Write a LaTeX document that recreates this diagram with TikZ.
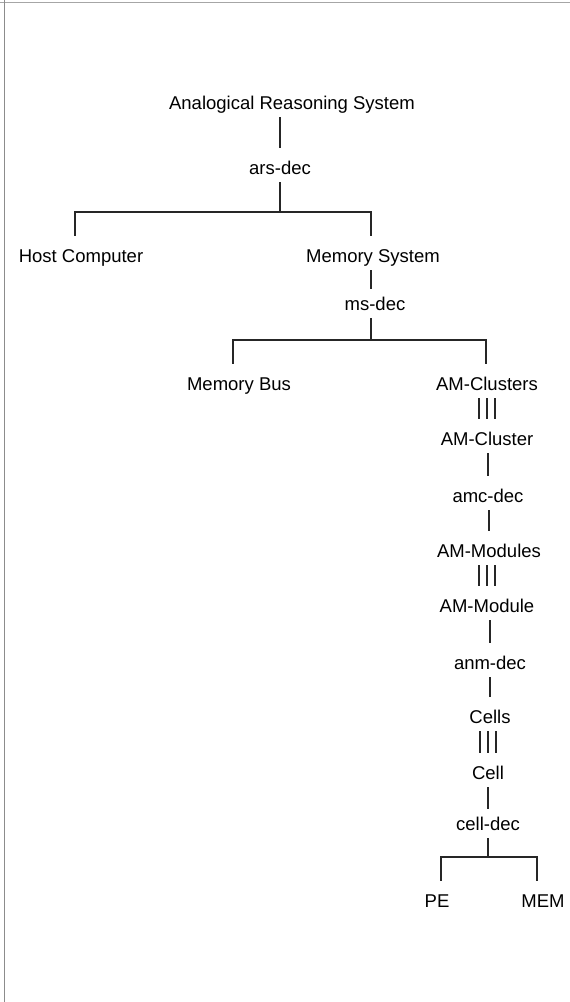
\documentclass[tikz,border=0pt]{standalone}
\usepackage{fontspec}
\setmainfont{Liberation Sans}
\begin{document}
\begin{tikzpicture}[x=1pt, y=-1pt]
\tikzset{
  lbl/.style={anchor=base, font=\fontsize{18.5}{22}\selectfont,
    text height=21pt, text depth=3pt, inner ysep=5pt, inner xsep=1pt},
  wire/.style={line width=1.1pt, black!85},
  frame/.style={line width=0.8pt, black!45},
}
\useasboundingbox (0,0) rectangle (570,1002);

% page frame lines along the top and left edge
\draw[frame, black!35] (0,2) -- (570,2);
\draw[frame] (4,0) -- (4,1002);

% labels (positioned by their baselines)
\node[lbl] (ars)     at (292,109) {Analogical Reasoning System};
\node[lbl] (arsdec)  at (280,174) {ars-dec};
\node[lbl] (host)    at (81,262)  {Host Computer};
\node[lbl] (mem)     at (373,262) {Memory System};
\node[lbl] (msdec)   at (375,310) {ms-dec};
\node[lbl] (bus)     at (239,390) {Memory Bus};
\node[lbl] (amcs)    at (487,390) {AM-Clusters};
\node[lbl] (amc)     at (487,445) {AM-Cluster};
\node[lbl] (amcdec)  at (488,502) {amc-dec};
\node[lbl] (amms)    at (489,557) {AM-Modules};
\node[lbl] (amm)     at (487,612) {AM-Module};
\node[lbl] (anmdec)  at (490,669) {anm-dec};
\node[lbl] (cells)   at (490,723) {Cells};
\node[lbl] (cell)    at (488,779) {Cell};
\node[lbl] (celldec) at (488,830) {cell-dec};
\node[lbl] (pe)      at (437,907) {PE};
\node[lbl] (memc)    at (543,907) {MEM};

% branch points
\coordinate (b1l) at (75,212);
\coordinate (b1r) at (371,212);
\coordinate (b2l) at (233,340);
\coordinate (b2r) at (486,340);
\coordinate (b3l) at (441,857);
\coordinate (b3r) at (537,857);

% top level
\draw[wire] (arsdec.north |- ars.south) -- (arsdec.north);
\draw[wire] (arsdec.south) -- (arsdec.south |- b1l);
\draw[wire] (b1l |- host.north) -- (b1l) -- (b1r) -- (b1r |- mem.north);

% memory system
\draw[wire] (b1r |- mem.south) -- ([yshift=-5pt]b1r |- msdec.north);
\draw[wire] (b1r |- msdec.south) -- (b1r |- b2l);
\draw[wire] (b2l |- bus.north) -- (b2l) -- (b2r) -- (b2r |- amcs.north);

% single links down the column
\draw[wire] (amcdec.north |- amc.south) -- (amcdec.north);
\draw[wire] (amms.north |- amcdec.south) -- (amms.north);
\draw[wire] (anmdec.north |- amm.south) -- (anmdec.north);
\draw[wire] (cells.north |- anmdec.south) -- (cells.north);
\draw[wire] (celldec.north |- cell.south) -- ([yshift=-5pt]celldec.north);

% triple links (collection to member)
\foreach \a/\b in {amcs/amc, amms/amm, cells/cell}
  \foreach \dx in {-8,0,8}
    \draw[wire] ([xshift=\dx pt]\b.north |- \a.south) -- ([xshift=\dx pt]\b.north);

% cell decomposition
\draw[wire] (celldec.south) -- (celldec.south |- b3l);
\draw[wire] (b3l |- pe.north) -- (b3l) -- (b3r) -- (b3r |- memc.north);
\end{tikzpicture}
\end{document}
